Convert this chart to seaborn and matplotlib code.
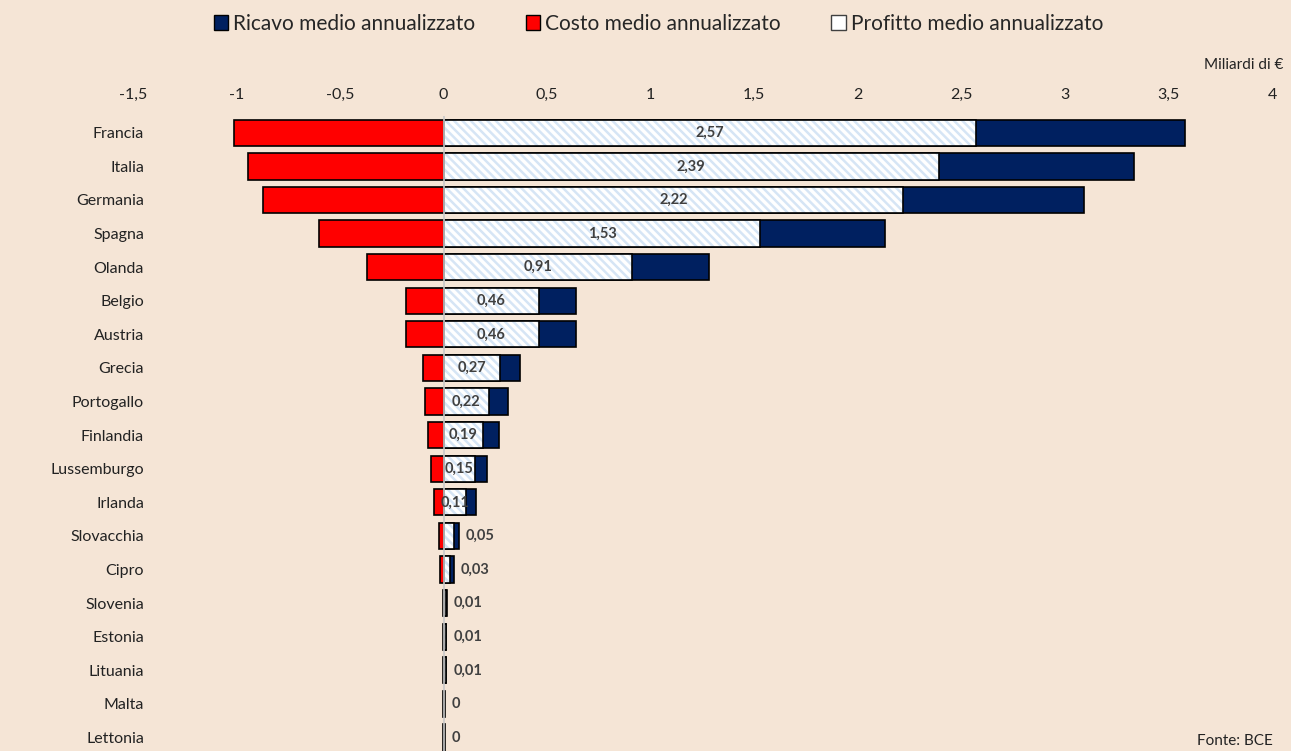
import matplotlib
matplotlib.use("Agg")
import matplotlib.pyplot as plt
from matplotlib.patches import Patch
import seaborn as sns
import pandas as pd

countries = ["Francia", "Italia", "Germania", "Spagna", "Olanda", "Belgio", "Austria",
             "Grecia", "Portogallo", "Finlandia", "Lussemburgo", "Irlanda", "Slovacchia",
             "Cipro", "Slovenia", "Estonia", "Lituania", "Malta", "Lettonia"]
ricavo = [3.58, 3.335, 3.09, 2.13, 1.28, 0.64, 0.64, 0.37, 0.31, 0.265, 0.21, 0.155,
          0.072, 0.048, 0.015, 0.013, 0.011, 0.005, 0.005]
costo = [-1.01, -0.945, -0.87, -0.60, -0.37, -0.18, -0.18, -0.10, -0.09, -0.075, -0.06,
         -0.045, -0.022, -0.018, -0.005, -0.003, -0.002, -0.002, -0.002]
profitto = [2.57, 2.39, 2.22, 1.53, 0.91, 0.46, 0.46, 0.27, 0.22, 0.19, 0.15, 0.11,
            0.05, 0.03, 0.01, 0.01, 0.01, 0.0, 0.0]
profitto_lbl = ["2,57", "2,39", "2,22", "1,53", "0,91", "0,46", "0,46", "0,27", "0,22",
                "0,19", "0,15", "0,11", "0,05", "0,03", "0,01", "0,01", "0,01", "0", "0"]
xticks = [-1.5, -1, -0.5, 0, 0.5, 1, 1.5, 2, 2.5, 3, 3.5, 4]
xtick_lbl = ["-1,5", "-1", "-0,5", "0", "0,5", "1", "1,5", "2", "2,5", "3", "3,5", "4"]

BG = "#F5E5D6"
NAVY = "#002060"
RED = "#FF0000"
HATCH_C = "#D6E5F5"

sns.set_theme(style="white")
plt.rcParams["font.family"] = ["Lato", "DejaVu Sans"]
plt.rcParams["hatch.linewidth"] = 1.8

df = pd.DataFrame({"paese": countries, "ricavo": ricavo, "costo": costo, "profitto": profitto})

fig = plt.figure(figsize=(12.91, 7.51), dpi=100, facecolor=BG)
ax = fig.add_axes([133 / 1291, 0.0, 1139 / 1291, (751 - 116) / 751])
ax.set_facecolor(BG)

w = 0.78
sns.barplot(data=df, x="ricavo", y="paese", orient="h", color=NAVY, saturation=1,
            width=w, edgecolor="black", linewidth=1.2, ax=ax)
n0 = len(ax.patches)
sns.barplot(data=df, x="costo", y="paese", orient="h", color=RED, saturation=1,
            width=w, edgecolor="black", linewidth=1.2, ax=ax)
n1 = len(ax.patches)
sns.barplot(data=df, x="profitto", y="paese", orient="h", color="white", saturation=1,
            width=w, edgecolor=HATCH_C, linewidth=0, hatch="\\\\\\\\", ax=ax)
n2 = len(ax.patches)
sns.barplot(data=df, x="profitto", y="paese", orient="h", color="none", saturation=1,
            width=w, edgecolor="black", linewidth=1.2, fill=False, ax=ax)

for p in ax.patches[n1:n2]:
    p.set_edgecolor(HATCH_C)
    p.set_linewidth(0)

ax.set_xlim(-1.5, 4)
ax.set_ylim(18.4, -0.5)
ax.axvline(0, color="#C8C8C8", lw=1.2, zorder=5)

for i, (pv, rv, lbl) in enumerate(zip(profitto, ricavo, profitto_lbl)):
    if pv >= 0.1:
        ax.text(pv / 2, i, lbl, ha="center", va="center", fontsize=10.5,
                fontweight="bold", color="#404040", zorder=6)
    else:
        ax.text(rv + 0.035, i, lbl, ha="left", va="center", fontsize=10.5,
                fontweight="bold", color="#404040", zorder=6)

ax.xaxis.tick_top()
ax.set_xticks(xticks)
ax.set_xticklabels(xtick_lbl, fontsize=11.5, color="#222222")
ax.tick_params(axis="x", length=0, pad=10)
ax.tick_params(axis="y", length=0, pad=-8, labelsize=11.5, labelcolor="#222222")
ax.set_xlabel("")
ax.set_ylabel("")
for s in ax.spines.values():
    s.set_visible(False)

handles = [Patch(facecolor=NAVY, edgecolor="black", lw=1),
           Patch(facecolor=RED, edgecolor="black", lw=1),
           Patch(facecolor="white", edgecolor="#404040", lw=1)]
labels = ["Ricavo medio annualizzato", "Costo medio annualizzato", "Profitto medio annualizzato"]
fig.legend(handles, labels, loc="center", bbox_to_anchor=(0.51, 0.968), ncol=3,
           frameon=False, fontsize=15, handlelength=0.7, handleheight=0.7,
           handletextpad=0.25, columnspacing=2.4)

fig.text(1283 / 1291, 1 - 65 / 751, "Miliardi di €", ha="right", va="center",
         fontsize=11, color="#222222")
fig.text(1197 / 1291, 1 - 741 / 751, "Fonte: BCE", ha="left", va="center",
         fontsize=11, color="#222222")

fig.savefig("out.png", dpi=100, facecolor=BG)
